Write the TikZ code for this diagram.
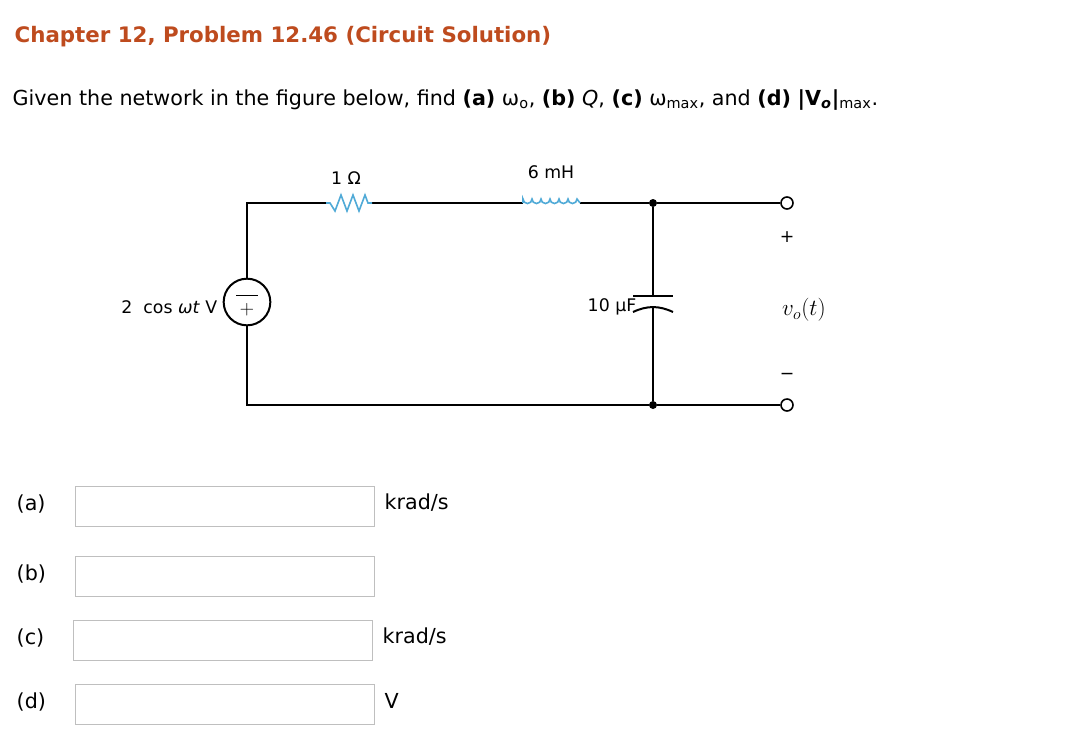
\documentclass[tikz,border=0pt]{standalone}
\usepackage{fontspec}
\setmainfont{DejaVu Sans}
\usetikzlibrary{positioning,calc}
\definecolor{titlecol}{RGB}{190,75,30}
\definecolor{partcol}{RGB}{80,170,215}
\tikzset{wire/.style={line width=2.2pt,black},
  part/.style={line width=1.2pt,partcol},
  ansbox/.style={draw=black!25,line width=0.8pt,minimum width=224pt,minimum height=30pt,inner sep=0pt},
  dot/.style={circle,fill=black,inner sep=0pt,minimum size=6pt},
  term/.style={circle,draw=black,line width=1.2pt,fill=white,inner sep=0pt,minimum size=9pt},
  lbl/.style={font=\fontsize{13}{15}\selectfont}}

\begin{document}
\begin{tikzpicture}[x=0.75pt,y=-0.75pt]
\useasboundingbox (0,0) rectangle (1084,744);
\fill[white] (0,0) rectangle (1084,744);

  \node[anchor=west,text=titlecol,font=\fontsize{16}{18}\selectfont\bfseries] (title) at (10,37) {Chapter 12, Problem 12.46 (Circuit Solution)};
  \node[anchor=west,font=\fontsize{15.5}{18}\selectfont] (given) at (8,100) {Given the network in the figure below, find \textbf{(a)} ω\textsubscript{o}, \textbf{(b)} \textit{Q}, \textbf{(c)} ω\textsubscript{max}, and \textbf{(d)} \textbf{|V\textsubscript{\textit{o}}|}\textsubscript{max}.};

  % circuit corners
  \coordinate (tl) at (247,203);
  \coordinate (bl) at (247,405);
  \node[circle,draw,line width=1.5pt,minimum size=35pt,inner sep=0pt] (src) at (247,302) {};
  \node at ([yshift=-6pt]src.center) {\fontsize{14}{14}\selectfont$+$};
  \draw[line width=1.2pt] ([yshift=5pt]src.center) -- ++(8pt,0) ([yshift=5pt]src.center) -- ++(-8pt,0);
  \coordinate (r1) at (326,203);
  \coordinate (r2) at (372,203);
  \coordinate (l1) at (523,203);
  \coordinate (l2) at (580,203);
  \node[dot] (jt) at (653,203) {};
  \node[dot] (jb) at (653,405) {};
  \coordinate (c1) at (653,296);
  \coordinate (c2) at (653,306);
  \node[term] (tp) at (787,203) {};
  \node[term] (tn) at (787,405) {};

  \draw[wire] (src.north) -- (tl) -- (r1);
  \draw[wire] (src.south) -- (bl) -- (jb) -- (tn);
  \draw[wire] (r2) -- (l1);
  \draw[wire] (l2) -- (jt) -- (tp);
  \draw[wire] (jt) -- (c1) (c2) -- (jb);
  % resistor
  \draw[part] (r1) -- ++(4,0) -- ++(5,8) -- ++(6,-16) -- ++(6,16) -- ++(6,-16) -- ++(6,16) -- ++(6,-16) -- ++(3,8) -- (r2);
  % inductor
  \draw[part] (l1) -- ++(0,-4) arc[start angle=180,end angle=0,radius=4.5]
    arc[start angle=180,end angle=0,radius=4.5] arc[start angle=180,end angle=0,radius=4.5]
    arc[start angle=180,end angle=0,radius=4.5] arc[start angle=180,end angle=0,radius=4.5]
    arc[start angle=180,end angle=0,radius=4.5] -- (l2);
  % capacitor
  \draw[line width=1.5pt] ($(c1)+(-20,0)$) -- ($(c1)+(20,0)$);
  \draw[line width=1.5pt] ($(c2)+(-20,6)$) to[bend left=25] ($(c2)+(20,6)$);

  \node[lbl] (rl) at (346,178) {1 Ω};
  \node[lbl] (ll) at (551,172) {6 mH};
  \node[lbl,anchor=east] (cl) at (641,307) {10 μF};
  \node[lbl,anchor=east] (sl) at (222,307) {2 \ cos \textit{ωt} V};
  \node[lbl] (pl) at (787,237) {+};
  \node[lbl] (ml) at (787,376) {−};
  \node[font=\fontsize{17}{18}\selectfont] (vo) at (804,310) {$v_o(t)$};

  % answers
  \foreach \n/\lab/\x/\y/\u in {a/(a)/75/486/krad\slash s, b/(b)/75/556/, c/(c)/73/620/krad\slash s, d/(d)/75/684/V}{
    \node[anchor=west,font=\fontsize{15.5}{18}\selectfont] (lab\n) at (12,\y+18) {\lab};
    \node[ansbox,anchor=north west] (box\n) at (\x,\y) {};
    \node[anchor=west,font=\fontsize{15.5}{18}\selectfont] (unit\n) at (\x+305,\y+17) {\u};
  }
\end{tikzpicture}
\end{document}
